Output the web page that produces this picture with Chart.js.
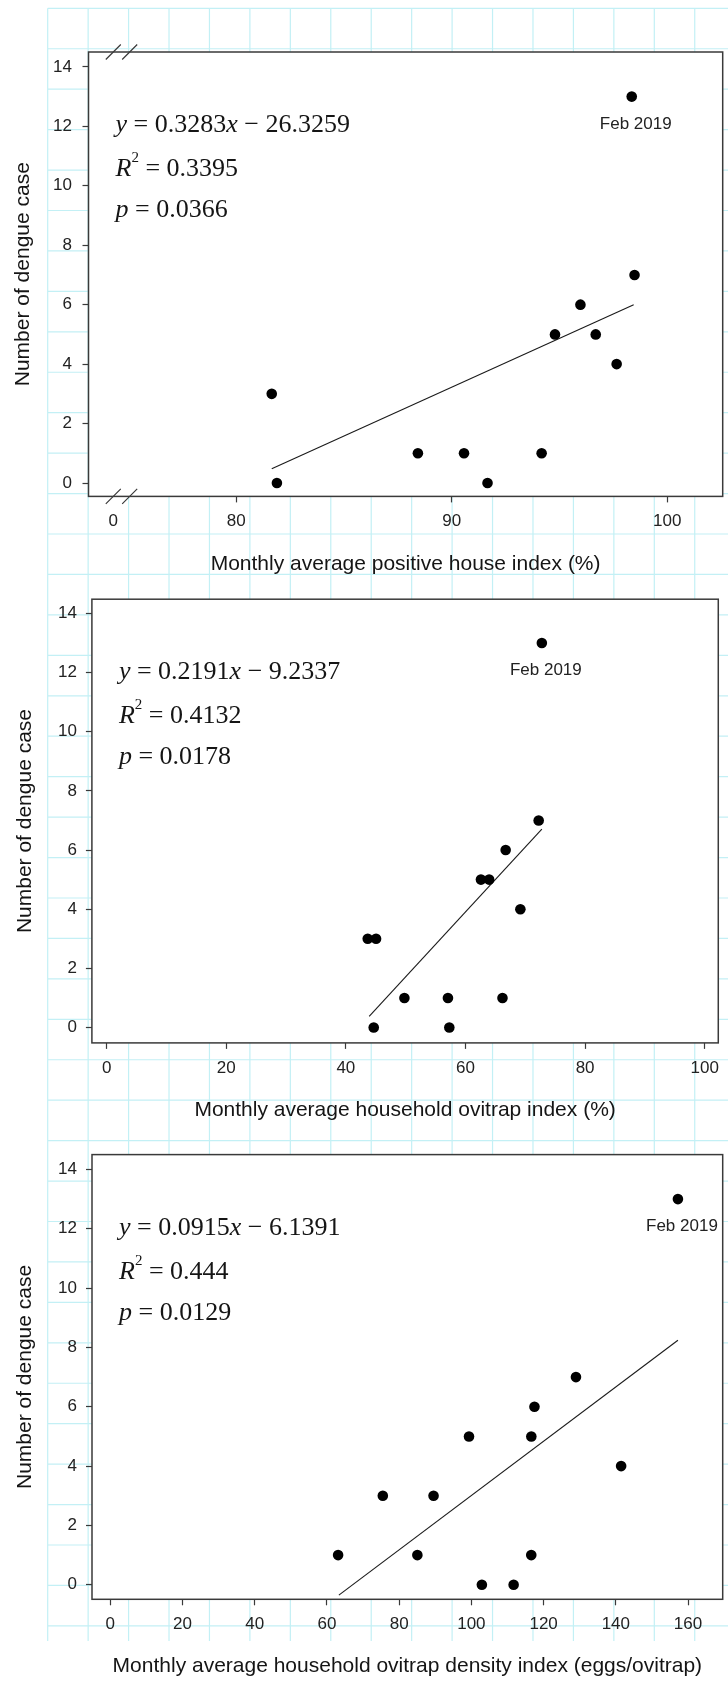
<!DOCTYPE html>
<html>
<head>
<meta charset="utf-8">
<script src="https://cdn.jsdelivr.net/npm/chart.js@4.4.1/dist/chart.umd.min.js"></script>
<style>
  html, body { margin: 0; padding: 0; background: #fff; }
  #page { position: relative; width: 728px; height: 1682px; overflow: hidden; }
  #paper { position: absolute; left: 0; top: 0; }
  .panel { position: absolute; left: 0; }
</style>
</head>
<body>
<div id="page">
  <canvas id="paper" width="728" height="1682"></canvas>
  <canvas id="c1" class="panel" style="top:0px" width="728" height="580"></canvas>
  <canvas id="c2" class="panel" style="top:580px" width="728" height="545"></canvas>
  <canvas id="c3" class="panel" style="top:1125px" width="728" height="557"></canvas>
</div>
<script>
// ---- data ----
const caseTicks = [0, 2, 4, 6, 8, 10, 12, 14];
const caseTitle = "Number of dengue case";
const outlierLabel = "Feb 2019";

// panel 1 - positive house index (axis broken between 0 and 80)
const houseIndex = [98.35, 98.48, 95.97, 94.79, 96.68, 97.65, 81.65, 88.43, 90.57, 94.17, 81.89, 91.66];
const houseCases = [13, 7, 6, 5, 5, 4, 3, 1, 1, 1, 0, 0];
const houseTicks = [74.3, 80, 90, 100];
const houseTickLabels = ["0", "80", "90", "100"];
const houseFitX = [81.65, 98.44];
const houseFitY = [0.48, 6.0];
const houseStats = ["0.3283", "26.3259", "0.3395", "0.0366"];

// panel 2 - household ovitrap index
const ovitrapIndex = [72.77, 72.24, 66.72, 62.59, 63.96, 69.18, 43.66, 45.05, 49.79, 57.07, 66.19, 44.66, 57.30];
const ovitrapCases = [13, 7, 6, 5, 5, 4, 3, 3, 1, 1, 1, 0, 0];
const ovitrapTicks = [0, 20, 40, 60, 80, 100];
const ovitrapFitX = [43.9, 72.77];
const ovitrapFitY = [0.38, 6.71];
const ovitrapStats = ["0.2191", "9.2337", "0.4132", "0.0178"];

// panel 3 - household ovitrap density index
const densityIndex = [157.2, 128.96, 117.47, 99.34, 116.6, 141.47, 75.47, 89.52, 63.09, 85.04, 116.58, 102.9, 111.7];
const densityCases = [13, 7, 6, 5, 5, 4, 3, 3, 1, 1, 1, 0, 0];
const densityTicks = [0, 20, 40, 60, 80, 100, 120, 140, 160];
const densityFitX = [63.3, 157.2];
const densityFitY = [-0.35, 8.24];
const densityStats = ["0.0915", "6.1391", "0.444", "0.0129"];

// ---- styling ----
const SANS = '"Liberation Sans", Arial, sans-serif';
const SERIF = '"Liberation Serif", "Times New Roman", serif';
const FRAME = "#3a3a3a";
const INK = "#151515";

// graph-paper background behind the figure
(function () {
  const g = document.getElementById("paper").getContext("2d");
  g.strokeStyle = "#c3f0f5";
  g.lineWidth = 1.2;
  const step = 40.44, x0 = 47.7, y0 = 8.3, yEnd = 1641;
  g.beginPath();
  for (let x = x0; x < 728; x += step) { g.moveTo(x, y0); g.lineTo(x, yEnd); }
  for (let y = y0; y < yEnd; y += step) { g.moveTo(x0, y); g.lineTo(728, y); }
  g.stroke();
})();

// draws a row of text pieces with their own fonts
function drawRuns(ctx, x, y, runs) {
  for (const r of runs) {
    ctx.font = r.font;
    ctx.fillText(r.t, x, y + (r.dy || 0));
    x += ctx.measureText(r.t).width;
  }
}

const decor = {
  id: "decor",
  beforeDraw(chart) {
    const a = chart.chartArea, ctx = chart.ctx;
    ctx.save();
    ctx.fillStyle = "#fff";
    ctx.fillRect(a.left, a.top, a.right - a.left, a.bottom - a.top);
    ctx.restore();
  },
  afterDraw(chart, args, o) {
    const a = chart.chartArea, ctx = chart.ctx;
    ctx.save();
    ctx.strokeStyle = FRAME;
    ctx.lineWidth = 1.5;
    ctx.strokeRect(a.left, a.top, a.right - a.left, a.bottom - a.top);

    // axis break marks
    if (o.broken) {
      const xs = chart.scales.x;
      const c0 = xs.getPixelForValue(xs.ticks[0].value);
      ctx.lineWidth = 1.2;
      ctx.beginPath();
      for (const cx of [c0, c0 + 16.4]) {
        for (const cy of [a.top, a.bottom]) {
          ctx.moveTo(cx - 7.5, cy + 7.5);
          ctx.lineTo(cx + 7.5, cy - 7.5);
        }
      }
      ctx.stroke();
    }

    // regression text
    ctx.fillStyle = INK;
    ctx.textAlign = "left";
    ctx.textBaseline = "alphabetic";
    const up = "26px " + SERIF, it = "italic 26px " + SERIF;
    const s = o.stats, x = a.left + 27;
    drawRuns(ctx, x, a.top + 80, [
      { t: "y", font: it }, { t: " = ", font: up }, { t: s[0], font: up },
      { t: "x", font: it }, { t: " \u2212 ", font: up }, { t: s[1], font: up }
    ]);
    drawRuns(ctx, x, a.top + 124, [
      { t: "R", font: it }, { t: "2", font: "15px " + SERIF, dy: -14 },
      { t: " = ", font: up }, { t: s[2], font: up }
    ]);
    drawRuns(ctx, x, a.top + 165, [
      { t: "p", font: it }, { t: " = ", font: up }, { t: s[3], font: up }
    ]);

    // outlier label under the Feb 2019 point
    const pt = chart.getDatasetMeta(0).data[0];
    ctx.font = "17px " + SANS;
    ctx.textAlign = "center";
    ctx.fillStyle = "#222";
    ctx.fillText(outlierLabel, pt.x + 4, pt.y + 32);
    ctx.restore();
  }
};

function makePanel(id, xs, ys, fitX, fitY, ticks, tickLabels, xTitle, stats, L) {
  const pts = xs.map((v, i) => ({ x: v, y: ys[i] }));
  const fit = fitX.map((v, i) => ({ x: v, y: fitY[i] }));
  return new Chart(document.getElementById(id), {
    type: "scatter",
    data: {
      datasets: [
        { data: pts, pointRadius: 5.3, pointHoverRadius: 5.3, backgroundColor: "#000", borderWidth: 0 },
        { data: fit, showLine: true, pointRadius: 0, borderColor: "#1a1a1a", borderWidth: 1.1, fill: false }
      ]
    },
    options: {
      responsive: false,
      animation: false,
      devicePixelRatio: 1,
      layout: { padding: { top: L.top, right: L.right, left: 0, bottom: 0 } },
      plugins: {
        legend: { display: false },
        tooltip: { enabled: false },
        decor: { stats: stats, broken: !!L.broken }
      },
      scales: {
        x: {
          type: "linear",
          min: L.xMin, max: L.xMax,
          afterBuildTicks: sc => { sc.ticks = ticks.map(v => ({ value: v })); },
          afterFit: sc => { sc.height = L.xH; },
          border: { display: false },
          grid: {
            drawOnChartArea: false, drawTicks: true, tickLength: 6, tickWidth: 1.2,
            tickColor: c => (L.broken && c.index === 0) ? "rgba(0,0,0,0)" : FRAME
          },
          ticks: {
            padding: 9, color: "#222", font: { family: SANS, size: 17 },
            maxRotation: 0, autoSkip: false,
            callback: (v, i) => tickLabels ? tickLabels[i] : String(v)
          },
          title: {
            display: true, text: xTitle, color: INK,
            font: { family: SANS, size: 21 }, padding: { top: 0, bottom: L.xTitlePad }
          }
        },
        y: {
          type: "linear",
          min: L.yMin, max: L.yMax,
          afterBuildTicks: sc => { sc.ticks = caseTicks.map(v => ({ value: v })); },
          afterFit: sc => { sc.width = L.yW; },
          border: { display: false },
          grid: { drawOnChartArea: false, drawTicks: true, tickLength: 6, tickWidth: 1.2, tickColor: FRAME },
          ticks: { padding: L.yTickPad, color: "#222", font: { family: SANS, size: 17 } },
          title: {
            display: true, text: caseTitle, color: INK,
            font: { family: SANS, size: 21 }, padding: { top: L.yTitlePad, bottom: 0 }
          }
        }
      }
    },
    plugins: [decor]
  });
}

makePanel("c1", houseIndex, houseCases, houseFitX, houseFitY, houseTicks, houseTickLabels,
  "Monthly average positive house index (%)", houseStats,
  { top: 52, right: 2, yW: 88.5, xH: 83.6, xMin: 73.15, xMax: 102.57, yMin: -0.45, yMax: 14.5,
    xTitlePad: 3, yTitlePad: 11, yTickPad: 10.5, broken: true });

makePanel("c2", ovitrapIndex, ovitrapCases, ovitrapFitX, ovitrapFitY, ovitrapTicks, null,
  "Monthly average household ovitrap index (%)", ovitrapStats,
  { top: 18.2, right: 1.5, yW: 91.9, xH: 82.1, xMin: -2.46, xMax: 102.27, yMin: -0.52, yMax: 14.48,
    xTitlePad: 2.4, yTitlePad: 13, yTickPad: 9 });

makePanel("c3", densityIndex, densityCases, densityFitX, densityFitY, densityTicks, null,
  "Monthly average household ovitrap density index (eggs/ovitrap)", densityStats,
  { top: 29.6, right: 1.5, yW: 92, xH: 82.7, xMin: -5.07, xMax: 169.6, yMin: -0.49, yMax: 14.5,
    xTitlePad: 3.4, yTitlePad: 13, yTickPad: 9 });
</script>
</body>
</html>
